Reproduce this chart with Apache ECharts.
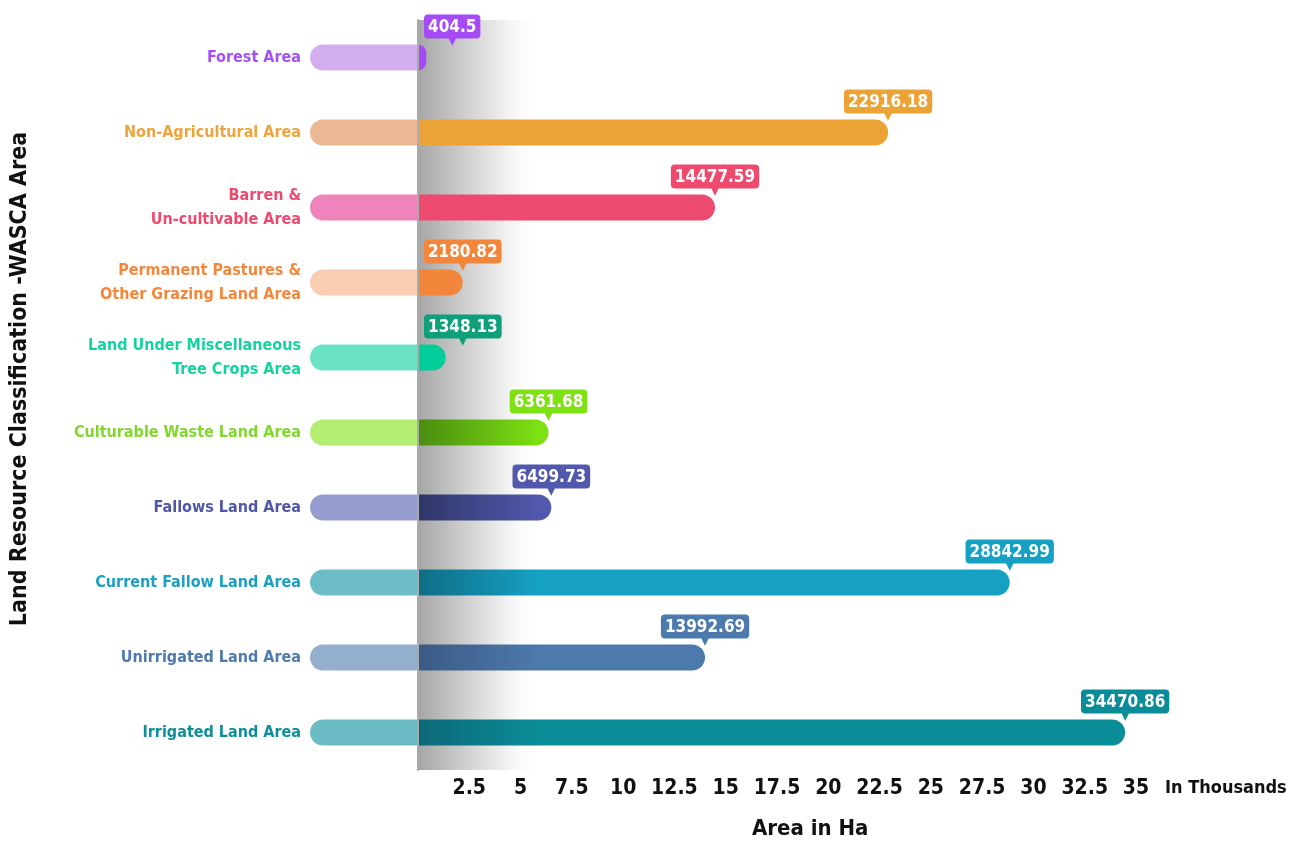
<!DOCTYPE html>
<html>
<head>
<meta charset="utf-8">
<script src="https://cdn.jsdelivr.net/npm/echarts@6/dist/echarts.min.js"></script>
<style>html,body{margin:0;padding:0;background:#fff}#c{width:1300px;height:841px}</style>
</head>
<body>
<div id="c"></div>
<script>
const categories = ['Forest Area', 'Non-Agricultural Area', 'Barren &\nUn-cultivable Area', 'Permanent Pastures &\nOther Grazing Land Area', 'Land Under Miscellaneous\nTree Crops Area', 'Culturable Waste Land Area', 'Fallows Land Area', 'Current Fallow Land Area', 'Unirrigated Land Area', 'Irrigated Land Area'];
const values = [404.5, 22916.18, 14477.59, 2180.82, 1348.13, 6361.68, 6499.73, 28842.99, 13992.69, 34470.86];
const textColors = ['#a650f4', '#eda43a', '#ee4a6f', '#f2883d', '#14d3a0', '#7fd82a', '#4f57a6', '#1c9fc0', '#4e7aae', '#0f8e9b'];
const stubColors = ['#d2aeee', '#ecb893', '#ef84bc', '#f8cdb1', '#6ae3c5', '#b3ee73', '#969dce', '#6dbdc8', '#93afcd', '#6cbcc6'];
const barColors = ['#a64af6', '#eca336', '#ee4a6e', '#f2863b', '#00cd99', '#7de112', '#5259ad', '#16a1c4', '#4d7aad', '#0a8d98'];
const barDarkColors = [null, null, null, null, null, '#4a8c10', '#2f3668', '#0f6d86', '#3b5a84', '#0c6877'];
const labelColors = ['#a64af6', '#eca336', '#ee4a6e', '#f2863b', '#0fa07a', '#7de112', '#5259ad', '#16a1c4', '#4d7aad', '#0a8d98'];

const FONT = "'DejaVu Sans Condensed', 'Liberation Sans Narrow', sans-serif";
const GRID_LEFT = 418;

const chart = echarts.init(document.getElementById('c'));

const mainData = values.map((v, i) => {
  const color = barDarkColors[i] ? {
    type: 'linear', x: GRID_LEFT, y: 0, x2: 540, y2: 0, global: true,
    colorStops: [{offset: 0, color: barDarkColors[i]}, {offset: 1, color: barColors[i]}]
  } : barColors[i];
  return {
    value: v / 1000,
    itemStyle: {color: color},
    label: {
      rich: {
        v: {backgroundColor: labelColors[i], color: '#fff', fontFamily: FONT, fontWeight: 'bold', fontSize: 17,
            padding: [5, 4, 2, 4], borderRadius: 4, lineHeight: 18},
        p: {color: labelColors[i], fontSize: 15, lineHeight: 9, fontFamily: 'DejaVu Sans', padding: [0, 0, 0, 0]}
      }
    }
  };
});

const option = {
  animation: false,
  title: {
    text: 'Area in Ha', left: 747, top: 813,
    textStyle: {fontFamily: FONT, fontWeight: 'bold', fontSize: 22, color: '#111'}
  },
  grid: [
    {left: GRID_LEFT, right: 164, top: 20, bottom: 71},
    {left: 310, width: 108, top: 20, bottom: 71}
  ],
  xAxis: [
    {
      gridIndex: 0, type: 'value', min: 0, max: 35, interval: 2.5,
      axisLine: {show: false}, axisTick: {show: false}, splitLine: {show: false},
      axisLabel: {
        margin: 8, color: '#111', fontFamily: FONT, fontWeight: 'bold', fontSize: 21,
        formatter: v => v === 0 ? '' : String(v)
      },
      name: 'In Thousands', nameLocation: 'end', nameGap: 29,
      nameTextStyle: {fontFamily: FONT, fontWeight: 'bold', fontSize: 18, color: '#111',
        verticalAlign: 'top', padding: [9, 0, 0, 0]}
    },
    {gridIndex: 1, type: 'value', min: 0, max: 1, show: false}
  ],
  yAxis: [
    {
      gridIndex: 0, type: 'category', data: categories, inverse: true,
      axisLine: {show: true, lineStyle: {color: '#aaaaaa', width: 2}},
      axisTick: {show: false}, axisLabel: {show: false}, splitLine: {show: false}, z: 5
    },
    {
      gridIndex: 1, type: 'category', data: categories, inverse: true,
      axisLine: {show: false}, axisTick: {show: false},
      axisLabel: {
        margin: 9, fontFamily: FONT, fontWeight: 'bold', fontSize: 16, lineHeight: 24,
        color: (val, idx) => textColors[idx]
      },
      name: 'Land Resource Classification -WASCA Area', nameLocation: 'middle', nameGap: 278,
      nameTextStyle: {fontFamily: FONT, fontWeight: 'bold', fontSize: 23, color: '#111', padding: [0, 0, 0, 32]}
    }
  ],
  series: [
    {
      type: 'bar', xAxisIndex: 1, yAxisIndex: 1, barWidth: 26,
      data: categories.map((c, i) => ({value: 1, itemStyle: {color: stubColors[i]}})),
      itemStyle: {borderRadius: [13, 0, 0, 13]}, silent: true
    },
    {
      type: 'bar', xAxisIndex: 0, yAxisIndex: 0, barWidth: 26, z: 3,
      data: mainData,
      itemStyle: {borderRadius: [0, 13, 13, 0]},
      label: {
        show: true, position: ['100%', 0], align: 'center', verticalAlign: 'bottom',
        offset: [11, -2],
        formatter: p => '{v|' + values[p.dataIndex] + '}\n{p|▼}'
      },
      labelLayout: function (params) {
        const r = params.labelRect, b = params.rect;
        const minX = b.x + 12;
        return r.x < minX ? {dx: minX - r.x + 5} : {};
      },
      markArea: {
        silent: true,
        itemStyle: {
          color: {type: 'linear', x: 0, y: 0, x2: 1, y2: 0,
            colorStops: [
              {offset: 0, color: '#a6a6a6'},
              {offset: 0.45, color: '#d6d6d6'},
              {offset: 0.75, color: '#f4f4f4'},
              {offset: 1, color: 'rgba(255,255,255,0)'}
            ]}
        },
        data: [[{xAxis: 0}, {xAxis: 6}]]
      }
    }
  ]
};
chart.setOption(option);
</script>
</body>
</html>
